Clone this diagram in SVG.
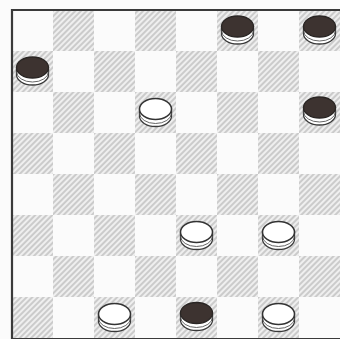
<svg xmlns="http://www.w3.org/2000/svg" width="340" height="339" viewBox="0 0 340 339">
  <style>
    .dark { fill: url(#hatch); }
    .side { fill: #ffffff; stroke: #3a3a3a; stroke-width: 1.3; }
    .rim { fill: none; stroke: #555; stroke-width: 0.9; }
    .topW { fill: #ffffff; stroke: #333; stroke-width: 1.5; }
    .topB { fill: #3d3330; stroke: #2a2624; stroke-width: 1.3; }
    .border { stroke: #3a3a3a; fill: none; }
  </style>
  <defs>
    <pattern id="hatch" width="4" height="4" patternUnits="userSpaceOnUse" patternTransform="rotate(45)">
      <rect width="4" height="4" fill="#efefef"/>
      <line x1="1" y1="0" x2="1" y2="4" stroke="#c2c2c2" stroke-width="1.6"/>
    </pattern>
    <g id="whitePiece">
      <path class="side" d="M -16 -4 L -16 3 A 16 10.5 0 0 0 16 3 L 16 -4 Z"/>
      <path class="rim" d="M -16 0 A 16 10.5 0 0 0 16 0"/>
      <ellipse class="topW" cx="0" cy="-4" rx="16" ry="10.5"/>
    </g>
    <g id="blackPiece">
      <path class="side" d="M -16 -4 L -16 3 A 16 10.5 0 0 0 16 3 L 16 -4 Z"/>
      <path class="rim" d="M -16 0 A 16 10.5 0 0 0 16 0"/>
      <ellipse class="topB" cx="0" cy="-4" rx="16" ry="10.5"/>
    </g>
  </defs>
  <rect width="340" height="339" fill="#fbfbfb"/>
  <g id="board">
    <!-- row 1 -->
    <rect class="dark" x="53" y="10" width="41" height="41"/>
    <rect class="dark" x="135" y="10" width="41" height="41"/>
    <rect class="dark" x="217" y="10" width="41" height="41"/>
    <rect class="dark" x="299" y="10" width="41" height="41"/>
    <!-- row 2 -->
    <rect class="dark" x="12" y="51" width="41" height="41"/>
    <rect class="dark" x="94" y="51" width="41" height="41"/>
    <rect class="dark" x="176" y="51" width="41" height="41"/>
    <rect class="dark" x="258" y="51" width="41" height="41"/>
    <!-- row 3 -->
    <rect class="dark" x="53" y="92" width="41" height="41"/>
    <rect class="dark" x="135" y="92" width="41" height="41"/>
    <rect class="dark" x="217" y="92" width="41" height="41"/>
    <rect class="dark" x="299" y="92" width="41" height="41"/>
    <!-- row 4 -->
    <rect class="dark" x="12" y="133" width="41" height="41"/>
    <rect class="dark" x="94" y="133" width="41" height="41"/>
    <rect class="dark" x="176" y="133" width="41" height="41"/>
    <rect class="dark" x="258" y="133" width="41" height="41"/>
    <!-- row 5 -->
    <rect class="dark" x="53" y="174" width="41" height="41"/>
    <rect class="dark" x="135" y="174" width="41" height="41"/>
    <rect class="dark" x="217" y="174" width="41" height="41"/>
    <rect class="dark" x="299" y="174" width="41" height="41"/>
    <!-- row 6 -->
    <rect class="dark" x="12" y="215" width="41" height="41"/>
    <rect class="dark" x="94" y="215" width="41" height="41"/>
    <rect class="dark" x="176" y="215" width="41" height="41"/>
    <rect class="dark" x="258" y="215" width="41" height="41"/>
    <!-- row 7 -->
    <rect class="dark" x="53" y="256" width="41" height="41"/>
    <rect class="dark" x="135" y="256" width="41" height="41"/>
    <rect class="dark" x="217" y="256" width="41" height="41"/>
    <rect class="dark" x="299" y="256" width="41" height="41"/>
    <!-- row 8 -->
    <rect class="dark" x="12" y="297" width="41" height="41"/>
    <rect class="dark" x="94" y="297" width="41" height="41"/>
    <rect class="dark" x="176" y="297" width="41" height="41"/>
    <rect class="dark" x="258" y="297" width="41" height="41"/>
    <line class="border" x1="11" y1="10" x2="340" y2="10" stroke-width="2"/>
    <line class="border" x1="12" y1="9" x2="12" y2="339" stroke-width="2.2"/>
    <line class="border" x1="12" y1="338.5" x2="340" y2="338.5" stroke-width="1" stroke="#888"/>
  </g>
  <g id="piece-b1"><use href="#blackPiece" x="237.5" y="30.5"/></g>
  <g id="piece-b2"><use href="#blackPiece" x="319.5" y="30.5"/></g>
  <g id="piece-b3"><use href="#blackPiece" x="32.5" y="71.5"/></g>
  <g id="piece-w1"><use href="#whitePiece" x="155.5" y="113"/></g>
  <g id="piece-b4"><use href="#blackPiece" x="319.5" y="111.5"/></g>
  <g id="piece-w2"><use href="#whitePiece" x="196.5" y="236"/></g>
  <g id="piece-w3"><use href="#whitePiece" x="278.5" y="236"/></g>
  <g id="piece-w4"><use href="#whitePiece" x="114.5" y="318"/></g>
  <g id="piece-b5"><use href="#blackPiece" x="196.5" y="317"/></g>
  <g id="piece-w5"><use href="#whitePiece" x="278.5" y="318"/></g>
</svg>
